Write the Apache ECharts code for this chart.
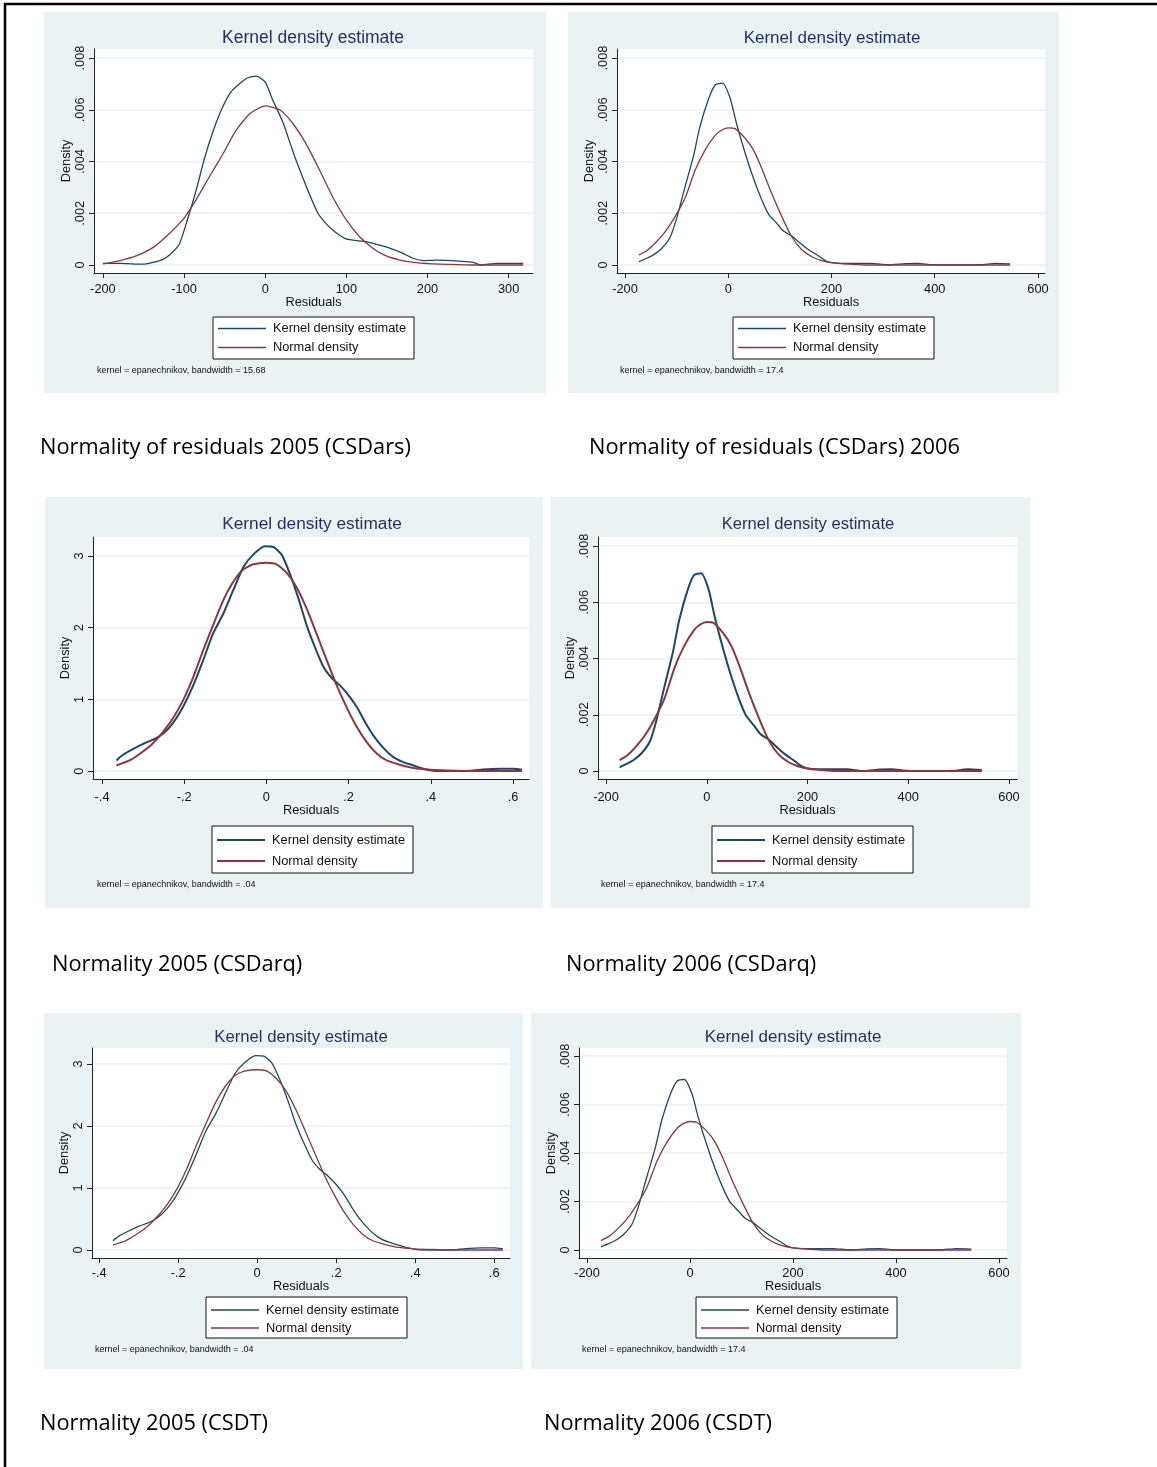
<!DOCTYPE html>
<html>
<head>
    <meta charset="utf-8">
    <title>Kernel density estimate</title>
    <script src="https://cdn.jsdelivr.net/npm/echarts@6/dist/echarts.min.js"></script>
    <style>
        body { margin: 0; background: #fff; }
        #main { width: 1157px; height: 1467px; }
    </style>
</head>
<body>
<div id="main"></div>
<script type="text/javascript">
    // residuals 2005 (CSDars), bandwidth 15.68
    var kdeArs05 = [[-200, .00006], [-179, .00006], [-151, .00003], [-128, .00019], [-118, .00039], [-106, .0008],
        [-96, .00174], [-85, .0029], [-75, .0041], [-65, .0051], [-54, .006], [-42, .0067], [-32, .0070],
        [-22, .00723], [-11, .0073], [0, .00707], [9, .0064], [22, .0055], [34, .0044], [46, .0034],
        [55, .0027], [65, .0020], [75, .0016], [85, .0013], [98, .00103], [108, .00096], [124, .0009],
        [137, .0008], [149, .0007], [170, .00045], [182, .00026], [195, .00017], [211, .00019], [231, .00017],
        [256, .0001], [266, .0000], [285, .00006], [318, .00006]];
    var normArs05 = [[-200, .00004], [-179, .00017], [-159, .00035], [-138, .00068], [-118, .00122], [-101, .00177],
        [-85, .00253], [-69, .0034], [-52, .0043], [-36, .0052], [-19, .00585], [0, .00615], [18, .0060],
        [34, .00547], [50, .0047], [67, .00367], [83, .00264], [100, .00174], [116, .0011], [133, .00064],
        [149, .00035], [166, .00019], [186, .00009], [215, .00003], [256, 0], [318, 0]];

    // residuals 2006 (CSDars / CSDarq / CSDT), bandwidth 17.4
    var kde06 = [[-173, .00013], [-158, .00026], [-145, .00039], [-129, .00064], [-113, .00105], [-100, .0018],
        [-84, .003], [-67, .00424], [-55, .00534], [-38, .00643], [-25, .00697], [-11, .00703], [4, .00643],
        [16, .00547], [33, .00431], [49, .00334], [65, .00251], [78, .00197], [94, .00161], [107, .00131],
        [123, .00112], [136, .0009], [155, .0006], [175, .00035], [188, .00017], [200, .00009], [220, .00006],
        [246, .00006], [278, .00006], [310, 0], [343, .00005], [368, .00006], [394, .00001], [459, 0],
        [491, .00001], [517, .00006], [546, .00004]];
    var norm06 = [[-173, .00039], [-158, .00055], [-142, .00084], [-122, .00129], [-103, .00187], [-84, .00257],
        [-64, .00367], [-45, .00444], [-25, .00502], [-13, .00521], [0, .0053], [13, .00527], [33, .00489],
        [49, .00444], [65, .00373], [84, .00277], [104, .00186], [123, .00109], [142, .0006], [162, .00032],
        [181, .00017], [200, .00009], [233, .00003], [265, 0], [546, 0]];

    // residuals 2005 (CSDarq / CSDT), bandwidth .04
    var kdeArq05 = [[-.365, .149], [-.349, .228], [-.324, .31], [-.3, .38], [-.268, .46], [-.243, .567],
        [-.219, .74], [-.203, .893], [-.178, 1.195], [-.154, 1.544], [-.13, 1.916], [-.105, 2.195],
        [-.081, 2.52], [-.056, 2.847], [-.032, 3.019], [-.004, 3.135], [.017, 3.126], [.037, 3.019],
        [.057, 2.753], [.078, 2.405], [.098, 2.033], [.118, 1.73], [.139, 1.451], [.159, 1.298],
        [.179, 1.195], [.2, 1.056], [.22, .893], [.24, .684], [.26, .498], [.285, .321], [.309, .195],
        [.333, .126], [.358, .079], [.382, .033], [.406, .005], [.431, 0], [.488, 0], [.528, .023],
        [.569, .033], [.601, .033], [.622, .019]];
    var normArq05 = [[-.365, .079], [-.333, .149], [-.308, .242], [-.28, .367], [-.252, .544], [-.227, .74],
        [-.203, .986], [-.178, 1.312], [-.154, 1.684], [-.13, 2.033], [-.105, 2.381], [-.081, 2.637],
        [-.056, 2.814], [-.032, 2.884], [0, 2.907], [.025, 2.884], [.049, 2.767], [.073, 2.567], [.098, 2.265],
        [.122, 1.916], [.147, 1.544], [.171, 1.195], [.195, .893], [.22, .614], [.244, .405], [.269, .242],
        [.293, .149], [.325, .088], [.358, .042], [.398, .019], [.439, .009], [.504, 0], [.622, 0]];

    var ticksBig = [-200, -100, 0, 100, 200, 300];
    var ticksWide = [-200, 0, 200, 400, 600];
    var ticksSmall = [-.4, -.2, 0, .2, .4, .6];
    var ticksDens = [0, .002, .004, .006, .008];
    var ticksDensArq = [0, 1, 2, 3];

    var notes = ['kernel = epanechnikov, bandwidth = 15.68', 'kernel = epanechnikov, bandwidth = 17.4',
        'kernel = epanechnikov, bandwidth = .04', 'kernel = epanechnikov, bandwidth = 17.4',
        'kernel = epanechnikov, bandwidth = .04', 'kernel = epanechnikov, bandwidth = 17.4'];
    var captions = ['Normality of residuals 2005 (CSDars)', 'Normality of residuals (CSDars) 2006',
        'Normality 2005 (CSDarq)', 'Normality 2006 (CSDarq)', 'Normality 2005 (CSDT)', 'Normality 2006 (CSDT)'];

    var blue = '#1a476f', red = '#90353b', bg = '#eaf2f3';

    // layout of each panel: box, plot area, axis ranges, text spots
    var panels = [
        { kde: kdeArs05, norm: normArs05, xt: ticksBig, yt: ticksDens, box: [44, 12, 502, 381],
          grid: [94, 49, 439, 224], x: [-211, 330], y: [-.00031, .00835], lw: 1.3,
          title: [313, 38, 17.5], leg: [213, 317, [5, 8, 5, 5], 6], note: [97, 371], cap: [40, 448],
          lm: 9.5, ng: 22 },
        { kde: kde06, norm: norm06, xt: ticksWide, yt: ticksDens, box: [568, 12, 491, 381],
          grid: [617, 49, 428, 224], x: [-215.5, 613.6], y: [-.00031, .00835], lw: 1.3,
          title: [832, 38, 17], leg: [733, 317, [5, 8, 5, 5], 6], note: [620, 371], cap: [589, 448],
          lm: 9.5, ng: 22 },
        { kde: kdeArq05, norm: normArq05, xt: ticksSmall, yt: ticksDensArq, box: [45, 497, 498, 411],
          grid: [93, 537, 436, 242], x: [-.422, .639], y: [-.11, 3.265], lw: 2,
          title: [312, 524, 17.3], leg: [212, 826, [7.5, 8, 5.5, 5], 8], note: [97, 885], cap: [52, 965],
          lm: 11.5, ng: 25 },
        { kde: kde06, norm: norm06, xt: ticksWide, yt: ticksDens, box: [551, 497, 479, 411],
          grid: [598, 537, 419, 242], x: [-215.9, 615.9], y: [-.000284, .00832], lw: 2,
          title: [808, 524, 16.6], leg: [712, 826, [7.5, 8, 5.5, 5], 8], note: [601, 885], cap: [566, 965],
          lm: 11.5, ng: 25 },
        { kde: kdeArq05, norm: normArq05, xt: ticksSmall, yt: ticksDensArq, box: [44, 1013, 479, 356],
          grid: [92, 1048, 418, 210], x: [-.418, .64], y: [-.129, 3.258], lw: 1.3,
          title: [301, 1037, 16.7], leg: [206, 1297, [6.5, 8, 3.5, 5], 5], note: [95, 1350], cap: [40, 1424],
          lm: 8.5, ng: 20 },
        { kde: kde06, norm: norm06, xt: ticksWide, yt: ticksDens, box: [531, 1013, 490, 356],
          grid: [579, 1048, 428, 210], x: [-215.5, 615.5], y: [-.00033, .00833], lw: 1.3,
          title: [793, 1037, 17], leg: [696, 1297, [6.5, 8, 3.5, 5], 5], note: [582, 1350], cap: [544, 1424],
          lm: 8.5, ng: 20 }
    ];

    function stataNum(v) {
        return String(v).replace(/^(-?)0\./, '$1.');
    }

    var grids = [], xAxes = [], yAxes = [], series = [], legends = [], graphics = [];
    var font = 'Liberation Sans';

    // page border
    graphics.push({ type: 'line', shape: { x1: 4, y1: 4, x2: 1157, y2: 4 }, style: { stroke: '#000', lineWidth: 2.5 } });
    graphics.push({ type: 'line', shape: { x1: 5, y1: 3, x2: 5, y2: 1467 }, style: { stroke: '#000', lineWidth: 2.5 } });

    panels.forEach(function (p, i) {
        graphics.push({ type: 'rect', z: -10, shape: { x: p.box[0], y: p.box[1], width: p.box[2], height: p.box[3] },
            style: { fill: bg } });
        graphics.push({ type: 'text', x: p.title[0], y: p.title[1],
            style: { text: 'Kernel density estimate', fill: '#1f2f5f', font: p.title[2] + 'px ' + font,
                textAlign: 'center', textVerticalAlign: 'middle' } });
        graphics.push({ type: 'text', x: p.note[0], y: p.note[1],
            style: { text: notes[i], fill: '#111', font: '9px ' + font, textVerticalAlign: 'middle' } });
        graphics.push({ type: 'text', x: p.cap[0], y: p.cap[1],
            style: { text: captions[i], fill: '#000', font: '21.8px "Open Sans"', textVerticalAlign: 'middle' } });

        grids.push({ left: p.grid[0], top: p.grid[1], width: p.grid[2], height: p.grid[3],
            show: true, backgroundColor: '#fff', borderWidth: 0 });

        xAxes.push({
            type: 'value', gridIndex: i, min: p.x[0], max: p.x[1],
            name: 'Residuals', nameLocation: 'middle', nameGap: p.ng,
            nameTextStyle: { fontFamily: font, fontSize: 12.8, color: '#111' },
            axisLine: { show: true, onZero: false, lineStyle: { color: '#222', width: 1 } },
            axisTick: { show: true, length: 5, customValues: p.xt, lineStyle: { color: '#222' } },
            axisLabel: { customValues: p.xt, margin: p.lm, fontFamily: font, fontSize: 12.8, color: '#111',
                formatter: stataNum },
            splitLine: { show: false }
        });
        yAxes.push({
            type: 'value', gridIndex: i, min: p.y[0], max: p.y[1],
            name: 'Density', nameLocation: 'middle', nameGap: 21, nameRotate: 90,
            nameTextStyle: { fontFamily: font, fontSize: 12.8, color: '#111' },
            axisLine: { show: true, onZero: false, lineStyle: { color: '#222', width: 1 } },
            axisTick: { show: true, length: 5, customValues: p.yt, lineStyle: { color: '#222' } },
            axisLabel: { customValues: p.yt, rotate: 90, margin: 7, fontFamily: font, fontSize: 12.8, color: '#111',
                formatter: stataNum },
            splitLine: { show: true, lineStyle: { color: bg, width: 1.5 } }
        });

        series.push({ name: 'Kernel density estimate', type: 'line', xAxisIndex: i, yAxisIndex: i,
            data: p.kde, showSymbol: false, smooth: 0.2, color: blue,
            lineStyle: { color: blue, width: p.lw } });
        series.push({ name: 'Normal density', type: 'line', xAxisIndex: i, yAxisIndex: i,
            data: p.norm, showSymbol: false, smooth: 0.2, color: red,
            lineStyle: { color: red, width: p.lw } });

        legends.push({
            left: p.leg[0], top: p.leg[1], orient: 'vertical', selectedMode: false,
            data: ['Kernel density estimate', 'Normal density'],
            icon: 'rect', itemWidth: 48, itemHeight: p.lw, itemGap: p.leg[3], padding: p.leg[2],
            borderColor: '#111', borderWidth: 1, backgroundColor: '#fff',
            textStyle: { fontFamily: font, fontSize: 12.8, color: '#111', padding: [0, 0, 0, 2] }
        });
    });

    var chart = echarts.init(document.getElementById('main'));
    chart.setOption({
        animation: false,
        backgroundColor: '#fff',
        graphic: graphics,
        grid: grids,
        xAxis: xAxes,
        yAxis: yAxes,
        legend: legends,
        series: series
    });
</script>
</body>
</html>
